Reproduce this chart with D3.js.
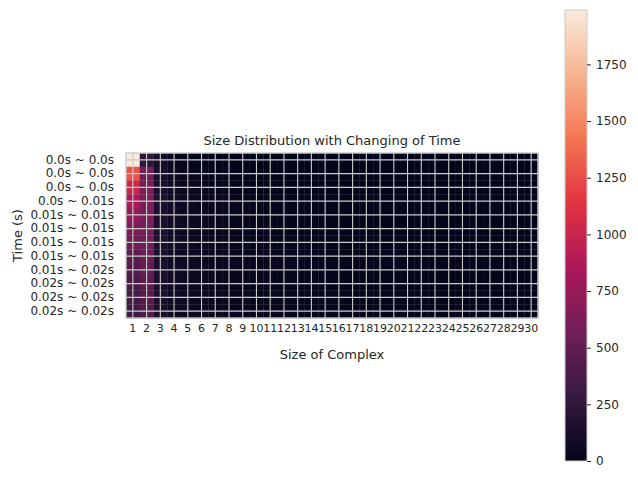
<!DOCTYPE html>
<html>
<head>
<meta charset="utf-8">
<script src="https://cdn.jsdelivr.net/npm/d3@7"></script>
<style>
  html, body { margin: 0; padding: 0; background: #fff; }
  svg text { font-family: "DejaVu Sans", sans-serif; fill: #262626; }
</style>
</head>
<body>
<svg id="chart" width="638" height="479"></svg>
<script>
// ---- data ----
const sizes = d3.range(1, 31).map(String);   // column categories 1..30
const timeLabels = [
  "0.0s ~ 0.0s", "0.0s ~ 0.0s", "0.0s ~ 0.0s", "0.0s ~ 0.01s",
  "0.01s ~ 0.01s", "0.01s ~ 0.01s", "0.01s ~ 0.01s", "0.01s ~ 0.01s",
  "0.01s ~ 0.02s", "0.02s ~ 0.02s", "0.02s ~ 0.02s", "0.02s ~ 0.02s"
];
const row0  = [1990, 240, 100, 35, 14, 8, 6, 5, 4, 3, 3, 2, 2, 2, 1, 1, 1, 1, 1, 1, 0, 0, 0, 0, 0, 0, 0, 0, 0, 0];
const row1  = [1270, 560, 125, 55, 30, 20, 15, 12, 10, 8, 7, 6, 5, 4, 4, 3, 3, 2, 2, 2, 2, 1, 1, 1, 1, 1, 1, 0, 0, 0];
const row2  = [1010, 610, 135, 65, 40, 28, 21, 17, 14, 12, 10, 9, 8, 7, 6, 5, 4, 4, 3, 3, 3, 2, 2, 2, 2, 1, 1, 1, 1, 1];
const row3  = [860, 620, 140, 70, 45, 33, 26, 21, 18, 15, 13, 11, 10, 9, 8, 7, 6, 5, 5, 4, 4, 3, 3, 3, 2, 2, 2, 2, 1, 1];
const row4  = [740, 610, 145, 72, 48, 36, 29, 24, 20, 17, 15, 13, 12, 10, 9, 8, 7, 7, 6, 5, 5, 4, 4, 3, 3, 3, 2, 2, 2, 2];
const row5  = [640, 590, 148, 74, 50, 38, 31, 26, 22, 19, 17, 15, 13, 12, 11, 10, 9, 8, 7, 6, 6, 5, 5, 4, 4, 3, 3, 3, 2, 2];
const row6  = [540, 565, 150, 75, 52, 40, 33, 28, 24, 21, 18, 16, 15, 13, 12, 11, 10, 9, 8, 7, 7, 6, 5, 5, 4, 4, 3, 3, 3, 2];
const row7  = [470, 535, 150, 76, 53, 41, 34, 29, 25, 22, 20, 18, 16, 14, 13, 12, 11, 10, 9, 8, 7, 7, 6, 5, 5, 4, 4, 3, 3, 3];
const row8  = [420, 500, 148, 76, 54, 42, 35, 30, 26, 23, 21, 19, 17, 15, 14, 13, 12, 11, 10, 9, 8, 7, 7, 6, 5, 5, 4, 4, 3, 3];
const row9  = [380, 470, 145, 75, 54, 43, 36, 31, 27, 24, 22, 20, 18, 16, 15, 14, 13, 12, 11, 10, 9, 8, 7, 7, 6, 5, 5, 4, 4, 3];
const row10 = [350, 440, 142, 74, 54, 43, 36, 31, 28, 25, 23, 21, 19, 17, 16, 15, 13, 12, 11, 10, 9, 9, 8, 7, 6, 6, 5, 5, 4, 4];
const row11 = [330, 420, 140, 73, 53, 43, 36, 32, 28, 25, 23, 21, 19, 18, 16, 15, 14, 13, 12, 11, 10, 9, 8, 7, 7, 6, 5, 5, 4, 4];
const rows = [row0, row1, row2, row3, row4, row5, row6, row7, row8, row9, row10, row11];
const colorTicks = [0, 250, 500, 750, 1000, 1250, 1500, 1750];
const vmax = 1990;

// seaborn "rocket" colormap stops
const rocketStops = ["#03051a", "#35193e", "#701f57", "#ad1759", "#e13342", "#f37651", "#f6b48f", "#faebdd"];
const rocket = d3.piecewise(d3.interpolateRgb, rocketStops);

const svg = d3.select("#chart");
const L = 126, R = 538, T = 153, B = 318;

const x = d3.scaleBand().domain(sizes).range([L, R]);
const y = d3.scaleBand().domain(d3.range(timeLabels.length)).range([T, B]);
const color = d3.scaleSequential(rocket).domain([0, vmax]);

const cells = [];
rows.forEach((r, i) => r.forEach((v, j) => cells.push({ i, j, v })));

svg.append("g").selectAll("rect").data(cells).join("rect")
  .attr("x", d => x(sizes[d.j]))
  .attr("y", d => y(d.i))
  .attr("width", x.bandwidth() + 0.3)
  .attr("height", y.bandwidth() + 0.3)
  .attr("fill", d => color(d.v));

// grid lines at cell centres
const grid = svg.append("g").attr("stroke", "#cccccc").attr("stroke-width", 1.1);
sizes.forEach(s => {
  const cx = x(s) + x.bandwidth() / 2;
  grid.append("line").attr("x1", cx).attr("x2", cx).attr("y1", T).attr("y2", B);
});
d3.range(timeLabels.length).forEach(i => {
  const cy = y(i) + y.bandwidth() / 2;
  grid.append("line").attr("x1", L).attr("x2", R).attr("y1", cy).attr("y2", cy);
});

svg.append("rect").attr("x", L).attr("y", T).attr("width", R - L).attr("height", B - T)
  .attr("fill", "none").attr("stroke", "#cccccc").attr("stroke-width", 1.4);

// axes
const xAxis = svg.append("g").attr("transform", `translate(0,${B})`)
  .call(d3.axisBottom(x).tickSize(0).tickPadding(6));
xAxis.select(".domain").remove();
xAxis.selectAll("text").style("font-size", "11px").style("font-family", "DejaVu Sans");

const yAxis = svg.append("g").attr("transform", `translate(${L},0)`)
  .call(d3.axisLeft(y).tickSize(0).tickPadding(12).tickFormat(i => timeLabels[i]));
yAxis.select(".domain").remove();
yAxis.selectAll("text").style("font-size", "12px").style("font-family", "DejaVu Sans");

svg.append("text").attr("x", (L + R) / 2).attr("y", 145).attr("text-anchor", "middle")
  .style("font-size", "13px").text("Size Distribution with Changing of Time");
svg.append("text").attr("x", (L + R) / 2).attr("y", 359).attr("text-anchor", "middle")
  .style("font-size", "13px").text("Size of Complex");
svg.append("text").attr("transform", `translate(22,${(T + B) / 2}) rotate(-90)`).attr("text-anchor", "middle")
  .style("font-size", "13px").text("Time (s)");

// colorbar
const cbL = 565, cbW = 22, cbT = 10, cbB = 461;
const defs = svg.append("defs");
const grad = defs.append("linearGradient").attr("id", "cbgrad")
  .attr("x1", 0).attr("y1", 1).attr("x2", 0).attr("y2", 0);
d3.range(0, 1.0001, 0.02).forEach(t => {
  grad.append("stop").attr("offset", t).attr("stop-color", rocket(t));
});
svg.append("rect").attr("x", cbL).attr("y", cbT).attr("width", cbW).attr("height", cbB - cbT)
  .attr("fill", "url(#cbgrad)").attr("stroke", "#cccccc").attr("stroke-width", 1);
const cy = d3.scaleLinear().domain([0, vmax]).range([cbB, cbT]);
const cAxis = svg.append("g").attr("transform", `translate(${cbL + cbW},0)`)
  .call(d3.axisRight(cy).tickValues(colorTicks).tickSize(4).tickPadding(5).tickFormat(d3.format("d")));
cAxis.select(".domain").remove();
cAxis.selectAll("line").attr("stroke", "#262626");
cAxis.selectAll("text").style("font-size", "12px").style("font-family", "DejaVu Sans");
</script>
</body>
</html>
